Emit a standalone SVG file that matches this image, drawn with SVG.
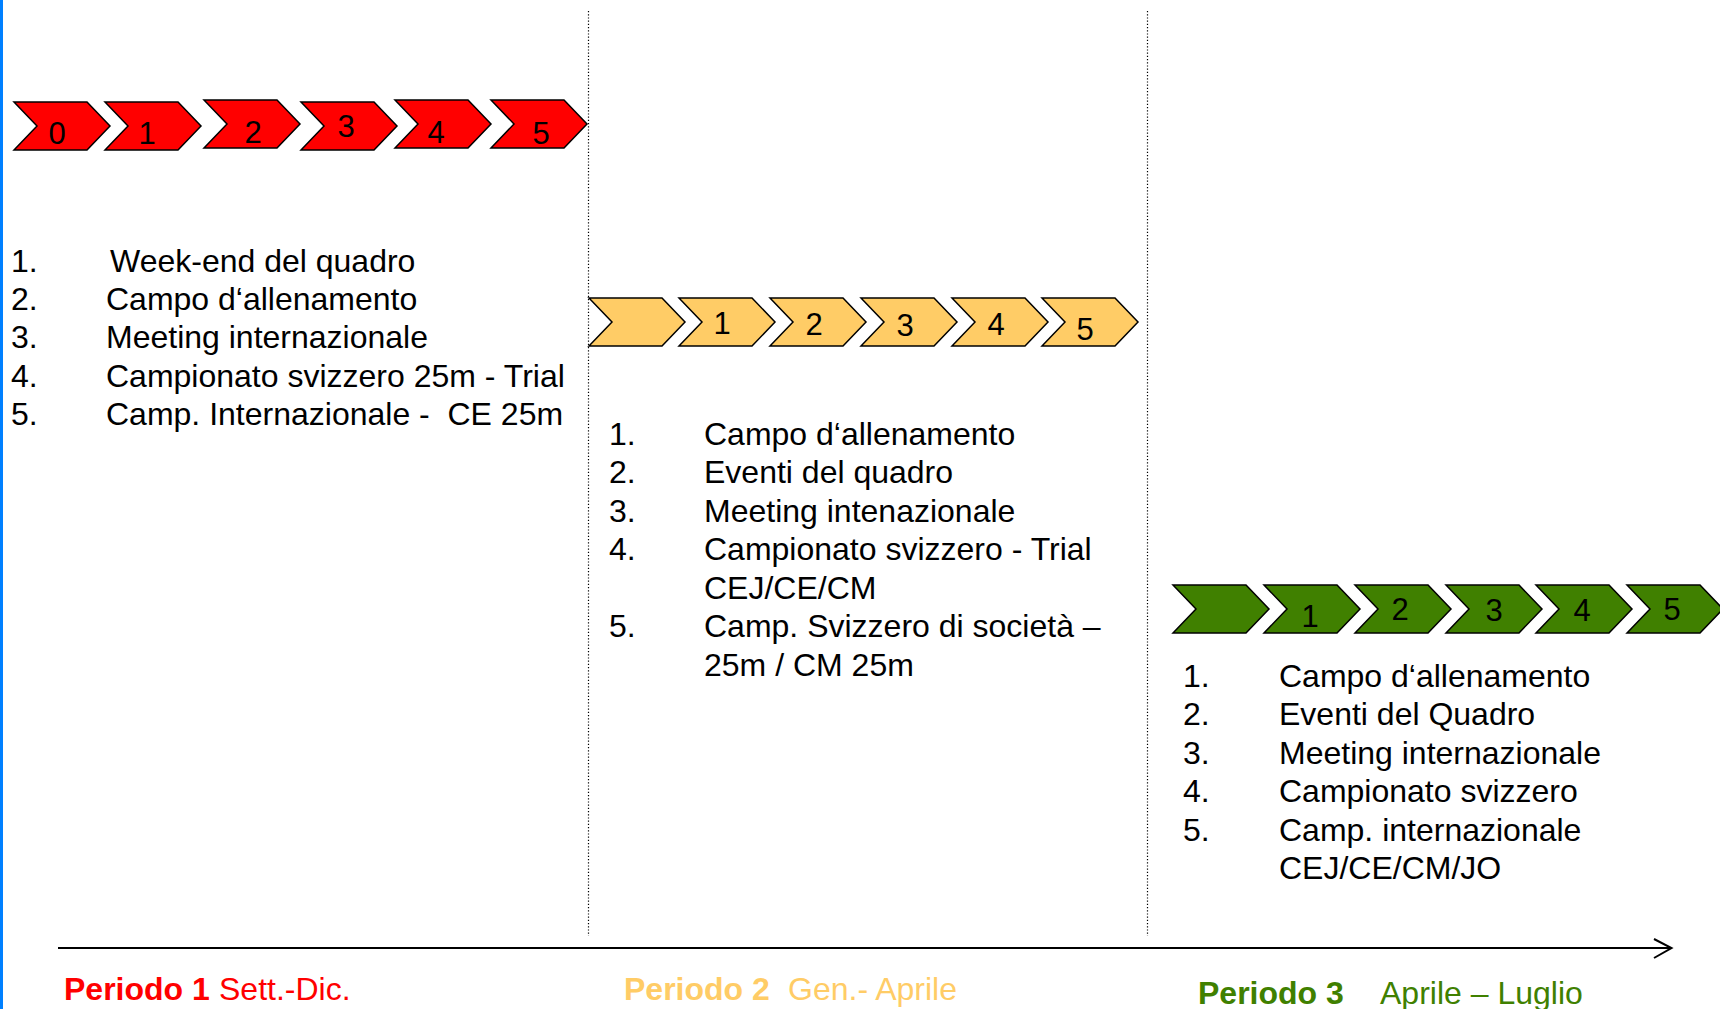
<svg xmlns="http://www.w3.org/2000/svg" xmlns:xlink="http://www.w3.org/1999/xlink" width="1720" height="1009" viewBox="0 0 1720 1009">
<style>
  .t { font-family: "Liberation Sans", Arial, sans-serif; font-size: 32px; fill: #000; }
  .n { font-family: "Liberation Sans", Arial, sans-serif; font-size: 31px; fill: #000; text-anchor: middle; }
  .b { font-weight: bold; }
  .red { fill: #FF0000; }
  .yel { fill: #FFCC66; }
  .grn { fill: #408000; }
  .chev { stroke: #000; stroke-width: 1.5; stroke-linejoin: miter; }
  .dot { stroke: #000; stroke-width: 1.2; stroke-dasharray: 1.2 2; fill: none; }
</style>
<defs>
  <path id="chev" d="M0,0 H73 L96,24 L73,48 H0 L23,24 Z"/>
</defs>
<rect x="0" y="0" width="1720" height="1009" fill="#fff"/>
<rect x="0" y="0" width="3" height="1009" fill="#0080FF"/>

<g id="connectors">
  <line class="dot" x1="588.5" y1="11" x2="588.5" y2="936"/>
  <line class="dot" x1="1147.5" y1="11" x2="1147.5" y2="936"/>
  <line x1="58" y1="948" x2="1671" y2="948" stroke="#000" stroke-width="2"/>
  <polyline points="1654,939 1671.5,948 1654,958" fill="none" stroke="#000" stroke-width="2"/>
</g>

<g id="period1-chevrons">
  <g id="r0"><use xlink:href="#chev" href="#chev" x="14" y="102" class="chev red"/><text class="n" x="57" y="144">0</text></g>
  <g id="r1"><use xlink:href="#chev" href="#chev" x="105" y="102" class="chev red"/><text class="n" x="147" y="144">1</text></g>
  <g id="r2"><use xlink:href="#chev" href="#chev" x="204" y="100" class="chev red"/><text class="n" x="253" y="143">2</text></g>
  <g id="r3"><use xlink:href="#chev" href="#chev" x="301" y="102" class="chev red"/><text class="n" x="346" y="137">3</text></g>
  <g id="r4"><use xlink:href="#chev" href="#chev" x="395" y="100" class="chev red"/><text class="n" x="436" y="143">4</text></g>
  <g id="r5"><use xlink:href="#chev" href="#chev" x="491" y="100" class="chev red"/><text class="n" x="541" y="144">5</text></g>
</g>

<g id="period2-chevrons">
  <g id="y0"><use xlink:href="#chev" href="#chev" x="589" y="298" class="chev yel"/></g>
  <g id="y1"><use xlink:href="#chev" href="#chev" x="679" y="298" class="chev yel"/><text class="n" x="722" y="334">1</text></g>
  <g id="y2"><use xlink:href="#chev" href="#chev" x="770" y="298" class="chev yel"/><text class="n" x="814" y="335">2</text></g>
  <g id="y3"><use xlink:href="#chev" href="#chev" x="861" y="298" class="chev yel"/><text class="n" x="905" y="336">3</text></g>
  <g id="y4"><use xlink:href="#chev" href="#chev" x="952" y="298" class="chev yel"/><text class="n" x="996" y="335">4</text></g>
  <g id="y5"><use xlink:href="#chev" href="#chev" x="1042" y="298" class="chev yel"/><text class="n" x="1085" y="340">5</text></g>
</g>

<g id="period3-chevrons">
  <g id="g0"><use xlink:href="#chev" href="#chev" x="1173" y="585" class="chev grn"/></g>
  <g id="g1"><use xlink:href="#chev" href="#chev" x="1264" y="585" class="chev grn"/><text class="n" x="1310" y="627">1</text></g>
  <g id="g2"><use xlink:href="#chev" href="#chev" x="1355" y="585" class="chev grn"/><text class="n" x="1400" y="620">2</text></g>
  <g id="g3"><use xlink:href="#chev" href="#chev" x="1446" y="585" class="chev grn"/><text class="n" x="1494" y="621">3</text></g>
  <g id="g4"><use xlink:href="#chev" href="#chev" x="1536" y="585" class="chev grn"/><text class="n" x="1582" y="621">4</text></g>
  <g id="g5"><use xlink:href="#chev" href="#chev" x="1627" y="585" class="chev grn"/><text class="n" x="1672" y="620">5</text></g>
</g>

<g id="list1">
  <text class="t" x="11" y="272">1.</text><text class="t" x="110" y="272">Week-end del quadro</text>
  <text class="t" x="11" y="310">2.</text><text class="t" x="106" y="310">Campo d‘allenamento</text>
  <text class="t" x="11" y="348">3.</text><text class="t" x="106" y="348">Meeting internazionale</text>
  <text class="t" x="11" y="387">4.</text><text class="t" x="106" y="387">Campionato svizzero 25m - Trial</text>
  <text class="t" x="11" y="425">5.</text><text class="t" x="106" y="425" xml:space="preserve">Camp. Internazionale -  CE 25m</text>
</g>

<g id="list2">
  <text class="t" x="609" y="445">1.</text><text class="t" x="704" y="445">Campo d‘allenamento</text>
  <text class="t" x="609" y="483">2.</text><text class="t" x="704" y="483">Eventi del quadro</text>
  <text class="t" x="609" y="522">3.</text><text class="t" x="704" y="522">Meeting intenazionale</text>
  <text class="t" x="609" y="560">4.</text><text class="t" x="704" y="560">Campionato svizzero - Trial</text>
  <text class="t" x="704" y="599">CEJ/CE/CM</text>
  <text class="t" x="609" y="637">5.</text><text class="t" x="704" y="637">Camp. Svizzero di società –</text>
  <text class="t" x="704" y="676">25m / CM 25m</text>
</g>

<g id="list3">
  <text class="t" x="1183" y="687">1.</text><text class="t" x="1279" y="687">Campo d‘allenamento</text>
  <text class="t" x="1183" y="725">2.</text><text class="t" x="1279" y="725">Eventi del Quadro</text>
  <text class="t" x="1183" y="764">3.</text><text class="t" x="1279" y="764">Meeting internazionale</text>
  <text class="t" x="1183" y="802">4.</text><text class="t" x="1279" y="802">Campionato svizzero</text>
  <text class="t" x="1183" y="841">5.</text><text class="t" x="1279" y="841">Camp. internazionale</text>
  <text class="t" x="1279" y="879">CEJ/CE/CM/JO</text>
</g>

<g id="period-labels">
  <text class="t red" y="1000"><tspan class="b" x="64">Periodo 1</tspan><tspan x="219">Sett.-Dic.</tspan></text>
  <text class="t yel" y="1000"><tspan class="b" x="624">Periodo 2</tspan><tspan x="788">Gen.- Aprile</tspan></text>
  <text class="t grn" y="1004"><tspan class="b" x="1198">Periodo 3</tspan><tspan x="1380">Aprile – Luglio</tspan></text>
</g>
</svg>
